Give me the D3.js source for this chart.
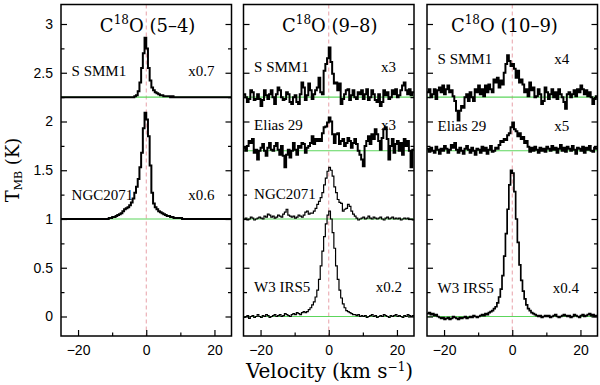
<!DOCTYPE html>
<html>
<head>
<meta charset="utf-8">
<script src="https://cdn.jsdelivr.net/npm/d3@7"></script>
<style>
body { margin: 0; background: #fff; }
svg { display: block; }
.tick text { font-family: "Liberation Sans", Arial, sans-serif; font-size: 14px; fill: #000; }
.tick line { stroke: #000; stroke-width: 1.2; }
.serif { font-family: "DejaVu Serif", serif; fill: #000; }
.src { font-family: "Liberation Serif", "Times New Roman", serif; font-size: 15px; fill: #000; }
</style>
</head>
<body>
<svg id="chart" width="600" height="385"></svg>
<script>
// channel centres (km/s), 0.5 km/s channels
const velocity = d3.range(100).map(i => -24.75 + 0.5 * i);

const transitions = ["(5\u20134)", "(9\u20138)", "(10\u20139)"];
const sources = ["S SMM1", "Elias 29", "NGC2071", "W3 IRS5"];
const offsets = [2.25, 1.7, 1.0, 0];
const scaleFactors = [
  ["x0.7", "", "x0.6", ""],
  ["x3", "x3", "", "x0.2"],
  ["x4", "x5", "", "x0.4"]
];

// spectra in units of 0.01 K above each baseline (already scaled)
const smm1_54 = [0,0,0,0,0,0,0,0,0,0, 0,0,0,0,0,0,0,0,0,0, 0,0,0,0,0,0,0,0,0,0, 0,0,0,0,0,0,0,0,0,0,
  0,0,0,1,2,6,15,30,45,61, 50,30,17,10,7,5,4,3,2,2, 1,1,1,1,0,1,0,0,0,0,
  0,0,0,0,0,0,0,0,0,0, 0,0,0,0,0,0,0,0,0,0, 0,0,0,0,0,0,0,0,0,0];
const ngc2071_54 = [0,0,0,0,0,0,0,0,0,0, 0,0,0,0,0,0,0,0,0,0, 0,0,0,0,0,0,0,0,1,1,
  2,2,3,4,5,6,8,10,11,12, 14,17,21,27,33,41,53,68,93,109, 102,85,55,27,16,12,10,8,7,6,
  5,4,3,3,2,2,1,1,1,1, 1,0,0,0,0,0,0,0,0,0, 0,0,0,0,0,0,0,0,0,0, 0,0,0,0,0,0,0,0,0,0];

const smm1_98 = [3,0,-5,-2,7,5,-3,-2,3,-2, -9,-3,7,2,-2,3,7,0,-7,3,
  10,7,0,-3,-2,5,3,-5,-7,0, 2,-5,-7,3,15,10,-3,2,14,7,
  -2,3,7,10,20,5,3,27,34,40, 51,36,24,14,15,7,14,-7,-2,3,
  7,8,-3,2,7,0,-2,5,3,7, -2,3,8,-3,0,7,3,-3,-5,3,
  -9,-5,7,2,5,-2,0,7,3,8, 0,2,7,12,15,7,3,8,2,5];
const elias29_98 = [3,0,5,10,8,12,-2,1,-9,0, 3,7,0,-5,3,8,1,0,5,8,
  1,-4,5,-5,-17,-4,1,-7,0,8, 1,-4,5,3,8,7,-2,3,5,8,
  15,7,12,10,12,10,18,24,25,29, 34,30,17,8,17,18,7,10,12,5,
  8,13,10,3,8,12,7,0,-4,-9, -16,5,10,15,7,17,12,22,17,10,
  1,13,22,24,12,-9,5,12,-2,7, 10,0,8,-4,12,5,10,0,-17,1];
const ngc2071_98 = [0,1,-1,0,2,1,-1,0,1,2, 1,0,3,2,5,4,2,3,1,2,
  4,3,2,5,7,10,4,3,2,3, 1,2,4,3,2,4,7,8,5,6,
  6,8,11,15,18,22,27,35,42,49, 53,50,44,33,27,20,17,16,8,10,
  11,15,13,8,5,3,1,-1,0,1, 2,0,1,3,1,0,2,1,0,1,
  2,0,-1,1,2,0,1,2,0,1, 0,1,-1,0,1,0,1,0,0,-1];
const w3irs5_98 = [-1,0,1,-2,0,1,-1,0,2,0, -1,1,0,2,1,-1,0,1,2,0,
  1,2,0,1,3,2,1,0,2,3, 2,4,3,2,4,5,4,5,7,9,
  12,15,20,27,38,52,67,82,95,104, 108,100,86,70,52,38,27,19,13,9,
  6,5,4,3,2,2,1,2,0,1, 0,1,-1,0,1,2,0,1,-1,0,
  1,0,2,1,0,-1,1,0,1,2, 0,1,0,-1,1,0,2,1,0,1];

const smm1_109 = [5,8,0,3,8,-2,7,10,5,12, 3,8,12,5,7,1,-4,-14,-24,-14,
  -9,-11,0,3,-4,5,0,-4,8,5, 12,3,8,1,12,5,13,8,5,18,
  15,20,10,17,13,25,34,43,37,32, 34,29,20,27,15,18,13,5,8,1,
  15,7,10,0,1,8,3,-7,-4,10, 5,-2,3,8,0,5,-2,8,3,0,
  -5,-12,3,5,0,3,7,1,8,5, 12,8,3,7,1,5,0,-7,-2,1];
const elias29_109 = [2,-1,3,0,-2,4,1,-3,2,0, 5,2,-2,1,6,3,8,1,-2,3,
  0,-3,2,5,1,-2,3,0,-4,2, 1,-2,4,0,3,-3,1,5,-1,0,
  3,2,6,10,9,12,11,16,18,24, 29,22,20,15,18,12,14,8,10,4,
  -1,3,0,4,1,-2,3,0,2,-1, 4,2,0,5,1,3,-2,2,6,0,
  3,-1,4,2,0,5,1,-3,3,2, 0,4,-2,3,1,5,0,-1,3,2];
const w3irs5_109 = [3,4,2,3,1,2,0,-1,-2,-1, -3,-2,-1,-3,-2,0,-1,-2,-3,-1,
  -2,-1,0,-2,-1,0,-1,1,0,-1, 0,1,2,1,3,2,4,5,6,8,
  10,14,20,28,42,62,85,110,135,150, 147,128,100,76,53,37,26,18,12,8,
  6,4,3,2,1,0,1,-1,0,1, 0,1,-1,0,1,2,0,-1,0,1,
  2,1,0,1,-1,0,2,1,0,-1, 1,2,0,1,2,3,1,2,0,1];

const spectra = [
  [smm1_54, null, ngc2071_54, null],
  [smm1_98, elias29_98, ngc2071_98, w3irs5_98],
  [smm1_109, elias29_109, null, w3irs5_109]
];

// layout
const panelLeft = [61, 243.5, 427];
const panelWidth = 170.5;
const plotTop = 4.5, plotBottom = 336;
const lineWidth = [[2, 0, 2, 0], [2, 2, 1.2, 1.2], [2, 2, 0, 1.7]];
const nameY = [[2.47, 0, 1.20, 0], [2.51, 1.91, 1.21, 0.25], [2.59, 1.90, 0, 0.24]];
const factorX = [[12.3, 0, 12.3, 0], [15.3, 15.3, 0, 13.8], [12.3, 12.3, 0, 11.9]];
const titleX = [0.4, 0.3, -2.3];

const svg = d3.select("#chart");
const y = d3.scaleLinear().domain([-0.2, 3.2]).range([plotBottom, plotTop]);

spectra.forEach(function(panel, p) {
  const x = d3.scaleLinear().domain([-25, 25]).range([panelLeft[p], panelLeft[p] + panelWidth]);
  const g = svg.append("g");

  g.append("clipPath").attr("id", "clip" + p)
    .append("rect")
    .attr("x", x(-25)).attr("y", plotTop)
    .attr("width", panelWidth).attr("height", plotBottom - plotTop);

  const plot = g.append("g").attr("clip-path", "url(#clip" + p + ")");

  // v = 0 marker
  plot.append("line")
    .attr("x1", x(0)).attr("x2", x(0))
    .attr("y1", plotTop).attr("y2", plotBottom)
    .attr("stroke", "#e8a0a8")
    .attr("stroke-width", 1)
    .attr("stroke-dasharray", "4,3");

  panel.forEach(function(spec, s) {
    if (!spec) return;
    plot.append("line")
      .attr("x1", x(-25)).attr("x2", x(25))
      .attr("y1", y(offsets[s])).attr("y2", y(offsets[s]))
      .attr("stroke", "#5cd65c")
      .attr("stroke-width", 1.2);
  });

  panel.forEach(function(spec, s) {
    if (!spec) return;
    let pts = spec.map((t, i) => [velocity[i] - 0.25, offsets[s] + t / 100]);
    pts.push([velocity[spec.length - 1] + 0.25, offsets[s] + spec[spec.length - 1] / 100]);
    const line = d3.line()
      .x(d => x(d[0]))
      .y(d => y(d[1]))
      .curve(d3.curveStepAfter);
    plot.append("path")
      .attr("d", line(pts))
      .attr("fill", "none")
      .attr("stroke", "#000")
      .attr("stroke-width", lineWidth[p][s])
      .attr("stroke-linejoin", "miter");

    g.append("text").attr("class", "src")
      .attr("x", x(-21.9)).attr("y", y(nameY[p][s]))
      .text(sources[s]);
    if (scaleFactors[p][s]) {
      g.append("text").attr("class", "src")
        .attr("x", x(factorX[p][s])).attr("y", y(nameY[p][s]))
        .text(scaleFactors[p][s]);
    }
  });

  // axes, ticks pointing inwards
  const xAxis = g.append("g").attr("transform", "translate(0," + plotBottom + ")");
  xAxis.call(d3.axisBottom(x).tickValues([-20, 0, 20]).tickSize(-6).tickPadding(9));
  xAxis.append("g").call(d3.axisBottom(x).tickValues([-10, 10]).tickSize(-3.5).tickFormat(""));

  const yMajor = [0, 0.5, 1, 1.5, 2, 2.5, 3];
  const yMinor = [0.25, 0.75, 1.25, 1.75, 2.25, 2.75];
  const left = g.append("g").attr("transform", "translate(" + panelLeft[p] + ",0)");
  left.call(d3.axisLeft(y).tickValues(yMajor).tickSize(-6).tickPadding(8)
    .tickFormat(p === 0 ? d3.format("") : ""));
  left.append("g").call(d3.axisLeft(y).tickValues(yMinor).tickSize(-3.5).tickFormat(""));
  const right = g.append("g").attr("transform", "translate(" + (panelLeft[p] + panelWidth) + ",0)");
  right.call(d3.axisRight(y).tickValues(yMajor).tickSize(-6).tickFormat(""));
  right.append("g").call(d3.axisRight(y).tickValues(yMinor).tickSize(-3.5).tickFormat(""));
  g.selectAll(".domain").remove();

  g.append("rect")
    .attr("x", panelLeft[p]).attr("y", plotTop)
    .attr("width", panelWidth).attr("height", plotBottom - plotTop)
    .attr("fill", "none").attr("stroke", "#000").attr("stroke-width", 1.5);

  const title = g.append("text").attr("class", "serif")
    .attr("x", x(titleX[p])).attr("y", 32)
    .attr("text-anchor", "middle")
    .style("font-size", "18px");
  title.append("tspan").text("C");
  title.append("tspan").attr("dy", -8).style("font-size", "12px").text("18");
  title.append("tspan").attr("dy", 8).text("O " + transitions[p]);
});

// axis titles
const yLab = svg.append("text").attr("class", "serif")
  .attr("transform", "translate(19,170) rotate(-90)")
  .attr("text-anchor", "middle")
  .style("font-size", "18px");
yLab.append("tspan").text("T");
yLab.append("tspan").attr("dy", 3).style("font-size", "11px").text("MB");
yLab.append("tspan").attr("dy", -3).text(" (K)");

const xLab = svg.append("text").attr("class", "serif")
  .attr("x", 329.5).attr("y", 378)
  .attr("text-anchor", "middle")
  .style("font-size", "20px");
xLab.append("tspan").text("Velocity (km s");
xLab.append("tspan").attr("dy", -7).style("font-size", "12px").text("\u22121");
xLab.append("tspan").attr("dy", 7).text(")");
</script>
</body>
</html>
